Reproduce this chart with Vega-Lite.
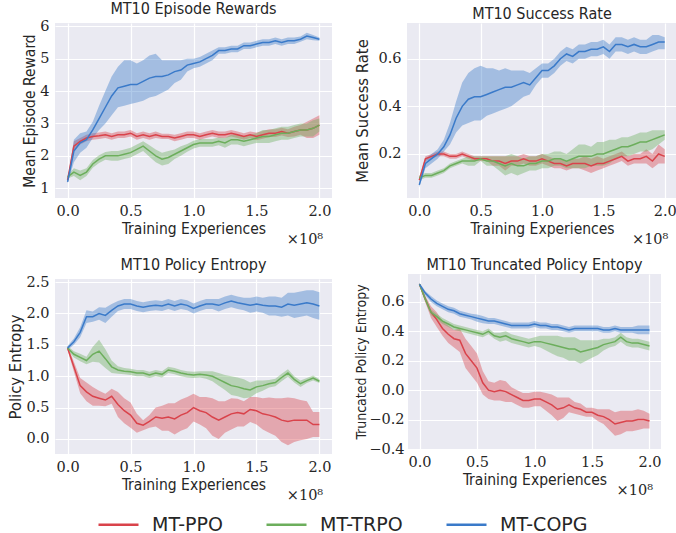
{
"$schema": "https://vega.github.io/schema/vega-lite/v6.json",
"padding": {"left": 7, "top": 1, "right": 0, "bottom": 0},
"background": "white",
"config": {
 "view": {"fill": "#eaeaf2", "stroke": null},
 "axis": {"domain": false, "ticks": false, "tickSize": 0, "gridColor": "#ffffff", "gridWidth": 1.2, "labelFont": "DejaVu Serif", "labelFontSize": 14.5, "labelColor": "#262626", "labelPadding": 6, "labelOverlap": false, "titleFont": "DejaVu Sans Condensed, Lato, sans-serif", "titleFontWeight": "normal", "titleColor": "#262626", "titlePadding": 2, "tickCount": 12},
 "axisX": {"titleFontSize": 15.5, "titlePadding": 4},
 "axisY": {"titleFontSize": 16.5},
 "title": {"font": "DejaVu Sans Condensed, Lato, sans-serif", "fontSize": 16, "fontWeight": "normal", "color": "#262626", "offset": 1, "frame": "group"},
 "legend": {"labelFont": "DejaVu Sans", "labelFontSize": 19, "labelColor": "#262626", "symbolType": "stroke", "symbolSize": 1600, "symbolStrokeWidth": 2.5, "labelOffset": 12, "columnPadding": 38}
},
"data": {"values": [
{"p":"A","m":"MT-PPO","x":0,"y":1.25,"l":1.2,"h":1.3},
{"p":"A","m":"MT-PPO","x":0.05,"y":2.3,"l":2.15,"h":2.45},
{"p":"A","m":"MT-PPO","x":0.1,"y":2.45,"l":2.35,"h":2.55},
{"p":"A","m":"MT-PPO","x":0.15,"y":2.55,"l":2.45,"h":2.65},
{"p":"A","m":"MT-PPO","x":0.2,"y":2.6,"l":2.5,"h":2.7},
{"p":"A","m":"MT-PPO","x":0.25,"y":2.62,"l":2.52,"h":2.72},
{"p":"A","m":"MT-PPO","x":0.3,"y":2.65,"l":2.55,"h":2.75},
{"p":"A","m":"MT-PPO","x":0.35,"y":2.6,"l":2.5,"h":2.7},
{"p":"A","m":"MT-PPO","x":0.4,"y":2.65,"l":2.55,"h":2.75},
{"p":"A","m":"MT-PPO","x":0.45,"y":2.65,"l":2.55,"h":2.75},
{"p":"A","m":"MT-PPO","x":0.5,"y":2.7,"l":2.6,"h":2.8},
{"p":"A","m":"MT-PPO","x":0.55,"y":2.6,"l":2.5,"h":2.7},
{"p":"A","m":"MT-PPO","x":0.6,"y":2.65,"l":2.55,"h":2.75},
{"p":"A","m":"MT-PPO","x":0.65,"y":2.6,"l":2.5,"h":2.7},
{"p":"A","m":"MT-PPO","x":0.7,"y":2.65,"l":2.55,"h":2.75},
{"p":"A","m":"MT-PPO","x":0.75,"y":2.6,"l":2.52,"h":2.68},
{"p":"A","m":"MT-PPO","x":0.8,"y":2.6,"l":2.52,"h":2.68},
{"p":"A","m":"MT-PPO","x":0.85,"y":2.55,"l":2.45,"h":2.65},
{"p":"A","m":"MT-PPO","x":0.9,"y":2.6,"l":2.5,"h":2.7},
{"p":"A","m":"MT-PPO","x":0.95,"y":2.65,"l":2.55,"h":2.75},
{"p":"A","m":"MT-PPO","x":1.0,"y":2.65,"l":2.55,"h":2.75},
{"p":"A","m":"MT-PPO","x":1.05,"y":2.6,"l":2.5,"h":2.7},
{"p":"A","m":"MT-PPO","x":1.1,"y":2.65,"l":2.55,"h":2.75},
{"p":"A","m":"MT-PPO","x":1.15,"y":2.7,"l":2.6,"h":2.8},
{"p":"A","m":"MT-PPO","x":1.2,"y":2.65,"l":2.55,"h":2.75},
{"p":"A","m":"MT-PPO","x":1.25,"y":2.65,"l":2.55,"h":2.75},
{"p":"A","m":"MT-PPO","x":1.3,"y":2.7,"l":2.6,"h":2.8},
{"p":"A","m":"MT-PPO","x":1.35,"y":2.65,"l":2.55,"h":2.75},
{"p":"A","m":"MT-PPO","x":1.4,"y":2.6,"l":2.5,"h":2.7},
{"p":"A","m":"MT-PPO","x":1.45,"y":2.65,"l":2.55,"h":2.75},
{"p":"A","m":"MT-PPO","x":1.5,"y":2.6,"l":2.48,"h":2.72},
{"p":"A","m":"MT-PPO","x":1.55,"y":2.65,"l":2.53,"h":2.77},
{"p":"A","m":"MT-PPO","x":1.6,"y":2.7,"l":2.58,"h":2.82},
{"p":"A","m":"MT-PPO","x":1.65,"y":2.7,"l":2.58,"h":2.82},
{"p":"A","m":"MT-PPO","x":1.7,"y":2.75,"l":2.63,"h":2.87},
{"p":"A","m":"MT-PPO","x":1.75,"y":2.7,"l":2.58,"h":2.82},
{"p":"A","m":"MT-PPO","x":1.8,"y":2.75,"l":2.6,"h":2.9},
{"p":"A","m":"MT-PPO","x":1.85,"y":2.8,"l":2.65,"h":2.95},
{"p":"A","m":"MT-PPO","x":1.9,"y":2.8,"l":2.55,"h":3.05},
{"p":"A","m":"MT-PPO","x":1.95,"y":2.85,"l":2.55,"h":3.15},
{"p":"A","m":"MT-PPO","x":2.0,"y":2.95,"l":2.65,"h":3.25},
{"p":"A","m":"MT-TRPO","x":0,"y":1.35,"l":1.3,"h":1.4},
{"p":"A","m":"MT-TRPO","x":0.05,"y":1.5,"l":1.38,"h":1.62},
{"p":"A","m":"MT-TRPO","x":0.1,"y":1.4,"l":1.25,"h":1.55},
{"p":"A","m":"MT-TRPO","x":0.15,"y":1.5,"l":1.38,"h":1.62},
{"p":"A","m":"MT-TRPO","x":0.2,"y":1.75,"l":1.63,"h":1.87},
{"p":"A","m":"MT-TRPO","x":0.25,"y":1.9,"l":1.78,"h":2.02},
{"p":"A","m":"MT-TRPO","x":0.3,"y":2.0,"l":1.88,"h":2.12},
{"p":"A","m":"MT-TRPO","x":0.35,"y":2.0,"l":1.85,"h":2.15},
{"p":"A","m":"MT-TRPO","x":0.4,"y":2.0,"l":1.85,"h":2.15},
{"p":"A","m":"MT-TRPO","x":0.45,"y":2.05,"l":1.9,"h":2.2},
{"p":"A","m":"MT-TRPO","x":0.5,"y":2.1,"l":1.95,"h":2.25},
{"p":"A","m":"MT-TRPO","x":0.55,"y":2.2,"l":2.05,"h":2.35},
{"p":"A","m":"MT-TRPO","x":0.6,"y":2.3,"l":2.15,"h":2.45},
{"p":"A","m":"MT-TRPO","x":0.65,"y":2.15,"l":1.97,"h":2.33},
{"p":"A","m":"MT-TRPO","x":0.7,"y":2.0,"l":1.8,"h":2.2},
{"p":"A","m":"MT-TRPO","x":0.75,"y":1.9,"l":1.7,"h":2.1},
{"p":"A","m":"MT-TRPO","x":0.8,"y":1.95,"l":1.75,"h":2.15},
{"p":"A","m":"MT-TRPO","x":0.85,"y":2.05,"l":1.9,"h":2.2},
{"p":"A","m":"MT-TRPO","x":0.9,"y":2.15,"l":2.0,"h":2.3},
{"p":"A","m":"MT-TRPO","x":0.95,"y":2.25,"l":2.13,"h":2.37},
{"p":"A","m":"MT-TRPO","x":1.0,"y":2.35,"l":2.23,"h":2.47},
{"p":"A","m":"MT-TRPO","x":1.05,"y":2.4,"l":2.28,"h":2.52},
{"p":"A","m":"MT-TRPO","x":1.1,"y":2.4,"l":2.28,"h":2.52},
{"p":"A","m":"MT-TRPO","x":1.15,"y":2.4,"l":2.28,"h":2.52},
{"p":"A","m":"MT-TRPO","x":1.2,"y":2.45,"l":2.33,"h":2.57},
{"p":"A","m":"MT-TRPO","x":1.25,"y":2.4,"l":2.25,"h":2.55},
{"p":"A","m":"MT-TRPO","x":1.3,"y":2.5,"l":2.35,"h":2.65},
{"p":"A","m":"MT-TRPO","x":1.35,"y":2.5,"l":2.35,"h":2.65},
{"p":"A","m":"MT-TRPO","x":1.4,"y":2.45,"l":2.3,"h":2.6},
{"p":"A","m":"MT-TRPO","x":1.45,"y":2.5,"l":2.35,"h":2.65},
{"p":"A","m":"MT-TRPO","x":1.5,"y":2.55,"l":2.4,"h":2.7},
{"p":"A","m":"MT-TRPO","x":1.55,"y":2.6,"l":2.4,"h":2.8},
{"p":"A","m":"MT-TRPO","x":1.6,"y":2.6,"l":2.4,"h":2.8},
{"p":"A","m":"MT-TRPO","x":1.65,"y":2.65,"l":2.45,"h":2.85},
{"p":"A","m":"MT-TRPO","x":1.7,"y":2.7,"l":2.5,"h":2.9},
{"p":"A","m":"MT-TRPO","x":1.75,"y":2.7,"l":2.5,"h":2.9},
{"p":"A","m":"MT-TRPO","x":1.8,"y":2.75,"l":2.55,"h":2.95},
{"p":"A","m":"MT-TRPO","x":1.85,"y":2.8,"l":2.6,"h":3.0},
{"p":"A","m":"MT-TRPO","x":1.9,"y":2.8,"l":2.6,"h":3.0},
{"p":"A","m":"MT-TRPO","x":1.95,"y":2.85,"l":2.6,"h":3.1},
{"p":"A","m":"MT-TRPO","x":2.0,"y":2.95,"l":2.75,"h":3.15},
{"p":"A","m":"MT-COPG","x":0,"y":1.2,"l":1.15,"h":1.25},
{"p":"A","m":"MT-COPG","x":0.05,"y":2.15,"l":1.8,"h":2.5},
{"p":"A","m":"MT-COPG","x":0.1,"y":2.4,"l":2.1,"h":2.7},
{"p":"A","m":"MT-COPG","x":0.15,"y":2.5,"l":2.25,"h":2.75},
{"p":"A","m":"MT-COPG","x":0.2,"y":2.8,"l":2.55,"h":3.05},
{"p":"A","m":"MT-COPG","x":0.25,"y":3.15,"l":2.8,"h":3.55},
{"p":"A","m":"MT-COPG","x":0.3,"y":3.5,"l":3.0,"h":4.0},
{"p":"A","m":"MT-COPG","x":0.35,"y":3.85,"l":3.25,"h":4.45},
{"p":"A","m":"MT-COPG","x":0.4,"y":4.1,"l":3.5,"h":4.75},
{"p":"A","m":"MT-COPG","x":0.45,"y":4.15,"l":3.55,"h":4.95},
{"p":"A","m":"MT-COPG","x":0.5,"y":4.2,"l":3.6,"h":4.95},
{"p":"A","m":"MT-COPG","x":0.55,"y":4.2,"l":3.65,"h":4.85},
{"p":"A","m":"MT-COPG","x":0.6,"y":4.3,"l":3.7,"h":4.95},
{"p":"A","m":"MT-COPG","x":0.65,"y":4.4,"l":3.8,"h":5.1},
{"p":"A","m":"MT-COPG","x":0.7,"y":4.45,"l":3.85,"h":5.15},
{"p":"A","m":"MT-COPG","x":0.75,"y":4.45,"l":3.95,"h":4.95},
{"p":"A","m":"MT-COPG","x":0.8,"y":4.5,"l":4.05,"h":4.95},
{"p":"A","m":"MT-COPG","x":0.85,"y":4.6,"l":4.25,"h":4.95},
{"p":"A","m":"MT-COPG","x":0.9,"y":4.65,"l":4.35,"h":4.95},
{"p":"A","m":"MT-COPG","x":0.95,"y":4.8,"l":4.6,"h":5.0},
{"p":"A","m":"MT-COPG","x":1.0,"y":4.85,"l":4.7,"h":5.0},
{"p":"A","m":"MT-COPG","x":1.05,"y":4.9,"l":4.75,"h":5.05},
{"p":"A","m":"MT-COPG","x":1.1,"y":5.0,"l":4.85,"h":5.15},
{"p":"A","m":"MT-COPG","x":1.15,"y":5.1,"l":4.95,"h":5.25},
{"p":"A","m":"MT-COPG","x":1.2,"y":5.25,"l":5.15,"h":5.35},
{"p":"A","m":"MT-COPG","x":1.25,"y":5.25,"l":5.15,"h":5.35},
{"p":"A","m":"MT-COPG","x":1.3,"y":5.3,"l":5.2,"h":5.4},
{"p":"A","m":"MT-COPG","x":1.35,"y":5.3,"l":5.2,"h":5.4},
{"p":"A","m":"MT-COPG","x":1.4,"y":5.4,"l":5.3,"h":5.5},
{"p":"A","m":"MT-COPG","x":1.45,"y":5.4,"l":5.3,"h":5.5},
{"p":"A","m":"MT-COPG","x":1.5,"y":5.45,"l":5.35,"h":5.55},
{"p":"A","m":"MT-COPG","x":1.55,"y":5.5,"l":5.4,"h":5.6},
{"p":"A","m":"MT-COPG","x":1.6,"y":5.5,"l":5.4,"h":5.6},
{"p":"A","m":"MT-COPG","x":1.65,"y":5.55,"l":5.45,"h":5.65},
{"p":"A","m":"MT-COPG","x":1.7,"y":5.5,"l":5.4,"h":5.6},
{"p":"A","m":"MT-COPG","x":1.75,"y":5.55,"l":5.45,"h":5.65},
{"p":"A","m":"MT-COPG","x":1.8,"y":5.55,"l":5.45,"h":5.65},
{"p":"A","m":"MT-COPG","x":1.85,"y":5.6,"l":5.52,"h":5.68},
{"p":"A","m":"MT-COPG","x":1.9,"y":5.7,"l":5.6,"h":5.8},
{"p":"A","m":"MT-COPG","x":1.95,"y":5.65,"l":5.57,"h":5.73},
{"p":"A","m":"MT-COPG","x":2.0,"y":5.6,"l":5.55,"h":5.65},
{"p":"B","m":"MT-PPO","x":0,"y":0.09,"l":0.08,"h":0.1},
{"p":"B","m":"MT-PPO","x":0.05,"y":0.18,"l":0.17,"h":0.19},
{"p":"B","m":"MT-PPO","x":0.1,"y":0.19,"l":0.18,"h":0.2},
{"p":"B","m":"MT-PPO","x":0.15,"y":0.2,"l":0.19,"h":0.21},
{"p":"B","m":"MT-PPO","x":0.2,"y":0.2,"l":0.19,"h":0.21},
{"p":"B","m":"MT-PPO","x":0.25,"y":0.19,"l":0.18,"h":0.2},
{"p":"B","m":"MT-PPO","x":0.3,"y":0.19,"l":0.18,"h":0.2},
{"p":"B","m":"MT-PPO","x":0.35,"y":0.2,"l":0.19,"h":0.21},
{"p":"B","m":"MT-PPO","x":0.4,"y":0.19,"l":0.18,"h":0.2},
{"p":"B","m":"MT-PPO","x":0.45,"y":0.18,"l":0.17,"h":0.19},
{"p":"B","m":"MT-PPO","x":0.5,"y":0.18,"l":0.17,"h":0.19},
{"p":"B","m":"MT-PPO","x":0.55,"y":0.18,"l":0.17,"h":0.19},
{"p":"B","m":"MT-PPO","x":0.6,"y":0.17,"l":0.15,"h":0.19},
{"p":"B","m":"MT-PPO","x":0.65,"y":0.17,"l":0.15,"h":0.19},
{"p":"B","m":"MT-PPO","x":0.7,"y":0.16,"l":0.13,"h":0.19},
{"p":"B","m":"MT-PPO","x":0.75,"y":0.17,"l":0.15,"h":0.19},
{"p":"B","m":"MT-PPO","x":0.8,"y":0.17,"l":0.15,"h":0.19},
{"p":"B","m":"MT-PPO","x":0.85,"y":0.18,"l":0.16,"h":0.2},
{"p":"B","m":"MT-PPO","x":0.9,"y":0.17,"l":0.15,"h":0.19},
{"p":"B","m":"MT-PPO","x":0.95,"y":0.17,"l":0.15,"h":0.19},
{"p":"B","m":"MT-PPO","x":1.0,"y":0.18,"l":0.16,"h":0.2},
{"p":"B","m":"MT-PPO","x":1.05,"y":0.17,"l":0.15,"h":0.19},
{"p":"B","m":"MT-PPO","x":1.1,"y":0.16,"l":0.14,"h":0.18},
{"p":"B","m":"MT-PPO","x":1.15,"y":0.16,"l":0.14,"h":0.18},
{"p":"B","m":"MT-PPO","x":1.2,"y":0.15,"l":0.13,"h":0.17},
{"p":"B","m":"MT-PPO","x":1.25,"y":0.16,"l":0.14,"h":0.18},
{"p":"B","m":"MT-PPO","x":1.3,"y":0.16,"l":0.14,"h":0.18},
{"p":"B","m":"MT-PPO","x":1.35,"y":0.16,"l":0.13,"h":0.19},
{"p":"B","m":"MT-PPO","x":1.4,"y":0.15,"l":0.12,"h":0.18},
{"p":"B","m":"MT-PPO","x":1.45,"y":0.16,"l":0.13,"h":0.19},
{"p":"B","m":"MT-PPO","x":1.5,"y":0.16,"l":0.14,"h":0.18},
{"p":"B","m":"MT-PPO","x":1.55,"y":0.17,"l":0.15,"h":0.19},
{"p":"B","m":"MT-PPO","x":1.6,"y":0.18,"l":0.16,"h":0.2},
{"p":"B","m":"MT-PPO","x":1.65,"y":0.19,"l":0.17,"h":0.21},
{"p":"B","m":"MT-PPO","x":1.7,"y":0.17,"l":0.15,"h":0.19},
{"p":"B","m":"MT-PPO","x":1.75,"y":0.18,"l":0.16,"h":0.2},
{"p":"B","m":"MT-PPO","x":1.8,"y":0.18,"l":0.16,"h":0.2},
{"p":"B","m":"MT-PPO","x":1.85,"y":0.19,"l":0.16,"h":0.22},
{"p":"B","m":"MT-PPO","x":1.9,"y":0.17,"l":0.14,"h":0.2},
{"p":"B","m":"MT-PPO","x":1.95,"y":0.2,"l":0.16,"h":0.24},
{"p":"B","m":"MT-PPO","x":2.0,"y":0.19,"l":0.16,"h":0.22},
{"p":"B","m":"MT-TRPO","x":0,"y":0.1,"l":0.09,"h":0.11},
{"p":"B","m":"MT-TRPO","x":0.05,"y":0.11,"l":0.1,"h":0.12},
{"p":"B","m":"MT-TRPO","x":0.1,"y":0.11,"l":0.1,"h":0.12},
{"p":"B","m":"MT-TRPO","x":0.15,"y":0.12,"l":0.11,"h":0.13},
{"p":"B","m":"MT-TRPO","x":0.2,"y":0.13,"l":0.12,"h":0.14},
{"p":"B","m":"MT-TRPO","x":0.25,"y":0.15,"l":0.14,"h":0.16},
{"p":"B","m":"MT-TRPO","x":0.3,"y":0.16,"l":0.15,"h":0.17},
{"p":"B","m":"MT-TRPO","x":0.35,"y":0.17,"l":0.16,"h":0.18},
{"p":"B","m":"MT-TRPO","x":0.4,"y":0.17,"l":0.15,"h":0.19},
{"p":"B","m":"MT-TRPO","x":0.45,"y":0.17,"l":0.15,"h":0.19},
{"p":"B","m":"MT-TRPO","x":0.5,"y":0.18,"l":0.17,"h":0.19},
{"p":"B","m":"MT-TRPO","x":0.55,"y":0.17,"l":0.15,"h":0.19},
{"p":"B","m":"MT-TRPO","x":0.6,"y":0.17,"l":0.15,"h":0.19},
{"p":"B","m":"MT-TRPO","x":0.65,"y":0.16,"l":0.13,"h":0.19},
{"p":"B","m":"MT-TRPO","x":0.7,"y":0.15,"l":0.11,"h":0.19},
{"p":"B","m":"MT-TRPO","x":0.75,"y":0.16,"l":0.12,"h":0.2},
{"p":"B","m":"MT-TRPO","x":0.8,"y":0.15,"l":0.11,"h":0.19},
{"p":"B","m":"MT-TRPO","x":0.85,"y":0.15,"l":0.12,"h":0.18},
{"p":"B","m":"MT-TRPO","x":0.9,"y":0.16,"l":0.13,"h":0.19},
{"p":"B","m":"MT-TRPO","x":0.95,"y":0.16,"l":0.13,"h":0.19},
{"p":"B","m":"MT-TRPO","x":1.0,"y":0.17,"l":0.14,"h":0.2},
{"p":"B","m":"MT-TRPO","x":1.05,"y":0.17,"l":0.14,"h":0.2},
{"p":"B","m":"MT-TRPO","x":1.1,"y":0.18,"l":0.15,"h":0.21},
{"p":"B","m":"MT-TRPO","x":1.15,"y":0.18,"l":0.15,"h":0.21},
{"p":"B","m":"MT-TRPO","x":1.2,"y":0.17,"l":0.14,"h":0.2},
{"p":"B","m":"MT-TRPO","x":1.25,"y":0.18,"l":0.14,"h":0.22},
{"p":"B","m":"MT-TRPO","x":1.3,"y":0.19,"l":0.14,"h":0.24},
{"p":"B","m":"MT-TRPO","x":1.35,"y":0.19,"l":0.14,"h":0.24},
{"p":"B","m":"MT-TRPO","x":1.4,"y":0.19,"l":0.15,"h":0.23},
{"p":"B","m":"MT-TRPO","x":1.45,"y":0.2,"l":0.15,"h":0.25},
{"p":"B","m":"MT-TRPO","x":1.5,"y":0.2,"l":0.15,"h":0.25},
{"p":"B","m":"MT-TRPO","x":1.55,"y":0.21,"l":0.16,"h":0.26},
{"p":"B","m":"MT-TRPO","x":1.6,"y":0.22,"l":0.18,"h":0.26},
{"p":"B","m":"MT-TRPO","x":1.65,"y":0.23,"l":0.19,"h":0.27},
{"p":"B","m":"MT-TRPO","x":1.7,"y":0.23,"l":0.19,"h":0.27},
{"p":"B","m":"MT-TRPO","x":1.75,"y":0.24,"l":0.2,"h":0.28},
{"p":"B","m":"MT-TRPO","x":1.8,"y":0.25,"l":0.21,"h":0.29},
{"p":"B","m":"MT-TRPO","x":1.85,"y":0.25,"l":0.21,"h":0.29},
{"p":"B","m":"MT-TRPO","x":1.9,"y":0.26,"l":0.22,"h":0.3},
{"p":"B","m":"MT-TRPO","x":1.95,"y":0.27,"l":0.24,"h":0.3},
{"p":"B","m":"MT-TRPO","x":2.0,"y":0.28,"l":0.26,"h":0.3},
{"p":"B","m":"MT-COPG","x":0,"y":0.07,"l":0.06,"h":0.08},
{"p":"B","m":"MT-COPG","x":0.05,"y":0.16,"l":0.14,"h":0.18},
{"p":"B","m":"MT-COPG","x":0.1,"y":0.18,"l":0.16,"h":0.2},
{"p":"B","m":"MT-COPG","x":0.15,"y":0.2,"l":0.18,"h":0.22},
{"p":"B","m":"MT-COPG","x":0.2,"y":0.23,"l":0.21,"h":0.26},
{"p":"B","m":"MT-COPG","x":0.25,"y":0.28,"l":0.24,"h":0.33},
{"p":"B","m":"MT-COPG","x":0.3,"y":0.35,"l":0.29,"h":0.42},
{"p":"B","m":"MT-COPG","x":0.35,"y":0.4,"l":0.32,"h":0.5},
{"p":"B","m":"MT-COPG","x":0.4,"y":0.43,"l":0.33,"h":0.54},
{"p":"B","m":"MT-COPG","x":0.45,"y":0.44,"l":0.34,"h":0.56},
{"p":"B","m":"MT-COPG","x":0.5,"y":0.44,"l":0.34,"h":0.57},
{"p":"B","m":"MT-COPG","x":0.55,"y":0.45,"l":0.36,"h":0.56},
{"p":"B","m":"MT-COPG","x":0.6,"y":0.46,"l":0.37,"h":0.56},
{"p":"B","m":"MT-COPG","x":0.65,"y":0.47,"l":0.38,"h":0.55},
{"p":"B","m":"MT-COPG","x":0.7,"y":0.48,"l":0.39,"h":0.56},
{"p":"B","m":"MT-COPG","x":0.75,"y":0.48,"l":0.4,"h":0.55},
{"p":"B","m":"MT-COPG","x":0.8,"y":0.49,"l":0.42,"h":0.55},
{"p":"B","m":"MT-COPG","x":0.85,"y":0.5,"l":0.44,"h":0.55},
{"p":"B","m":"MT-COPG","x":0.9,"y":0.49,"l":0.45,"h":0.54},
{"p":"B","m":"MT-COPG","x":0.95,"y":0.52,"l":0.49,"h":0.56},
{"p":"B","m":"MT-COPG","x":1.0,"y":0.55,"l":0.52,"h":0.58},
{"p":"B","m":"MT-COPG","x":1.05,"y":0.55,"l":0.52,"h":0.58},
{"p":"B","m":"MT-COPG","x":1.1,"y":0.57,"l":0.54,"h":0.6},
{"p":"B","m":"MT-COPG","x":1.15,"y":0.6,"l":0.57,"h":0.63},
{"p":"B","m":"MT-COPG","x":1.2,"y":0.62,"l":0.59,"h":0.65},
{"p":"B","m":"MT-COPG","x":1.25,"y":0.61,"l":0.58,"h":0.64},
{"p":"B","m":"MT-COPG","x":1.3,"y":0.63,"l":0.6,"h":0.66},
{"p":"B","m":"MT-COPG","x":1.35,"y":0.63,"l":0.6,"h":0.66},
{"p":"B","m":"MT-COPG","x":1.4,"y":0.64,"l":0.61,"h":0.67},
{"p":"B","m":"MT-COPG","x":1.45,"y":0.64,"l":0.61,"h":0.67},
{"p":"B","m":"MT-COPG","x":1.5,"y":0.65,"l":0.62,"h":0.68},
{"p":"B","m":"MT-COPG","x":1.55,"y":0.63,"l":0.6,"h":0.66},
{"p":"B","m":"MT-COPG","x":1.6,"y":0.66,"l":0.63,"h":0.69},
{"p":"B","m":"MT-COPG","x":1.65,"y":0.66,"l":0.63,"h":0.69},
{"p":"B","m":"MT-COPG","x":1.7,"y":0.65,"l":0.62,"h":0.68},
{"p":"B","m":"MT-COPG","x":1.75,"y":0.66,"l":0.63,"h":0.69},
{"p":"B","m":"MT-COPG","x":1.8,"y":0.65,"l":0.62,"h":0.68},
{"p":"B","m":"MT-COPG","x":1.85,"y":0.65,"l":0.62,"h":0.68},
{"p":"B","m":"MT-COPG","x":1.9,"y":0.66,"l":0.63,"h":0.7},
{"p":"B","m":"MT-COPG","x":1.95,"y":0.67,"l":0.64,"h":0.7},
{"p":"B","m":"MT-COPG","x":2.0,"y":0.67,"l":0.64,"h":0.69},
{"p":"C","m":"MT-PPO","x":0,"y":1.45,"l":1.42,"h":1.48},
{"p":"C","m":"MT-PPO","x":0.05,"y":1.15,"l":1.07,"h":1.23},
{"p":"C","m":"MT-PPO","x":0.1,"y":0.85,"l":0.73,"h":0.97},
{"p":"C","m":"MT-PPO","x":0.15,"y":0.75,"l":0.6,"h":0.9},
{"p":"C","m":"MT-PPO","x":0.2,"y":0.68,"l":0.53,"h":0.83},
{"p":"C","m":"MT-PPO","x":0.25,"y":0.65,"l":0.53,"h":0.77},
{"p":"C","m":"MT-PPO","x":0.3,"y":0.62,"l":0.52,"h":0.72},
{"p":"C","m":"MT-PPO","x":0.35,"y":0.68,"l":0.56,"h":0.8},
{"p":"C","m":"MT-PPO","x":0.4,"y":0.55,"l":0.35,"h":0.75},
{"p":"C","m":"MT-PPO","x":0.45,"y":0.45,"l":0.25,"h":0.65},
{"p":"C","m":"MT-PPO","x":0.5,"y":0.38,"l":0.18,"h":0.58},
{"p":"C","m":"MT-PPO","x":0.55,"y":0.25,"l":0.1,"h":0.4},
{"p":"C","m":"MT-PPO","x":0.6,"y":0.22,"l":0.14,"h":0.3},
{"p":"C","m":"MT-PPO","x":0.65,"y":0.28,"l":0.18,"h":0.38},
{"p":"C","m":"MT-PPO","x":0.7,"y":0.35,"l":0.2,"h":0.5},
{"p":"C","m":"MT-PPO","x":0.75,"y":0.33,"l":0.13,"h":0.53},
{"p":"C","m":"MT-PPO","x":0.8,"y":0.35,"l":0.13,"h":0.57},
{"p":"C","m":"MT-PPO","x":0.85,"y":0.32,"l":0.07,"h":0.57},
{"p":"C","m":"MT-PPO","x":0.9,"y":0.38,"l":0.13,"h":0.63},
{"p":"C","m":"MT-PPO","x":0.95,"y":0.42,"l":0.17,"h":0.67},
{"p":"C","m":"MT-PPO","x":1.0,"y":0.5,"l":0.28,"h":0.72},
{"p":"C","m":"MT-PPO","x":1.05,"y":0.45,"l":0.23,"h":0.67},
{"p":"C","m":"MT-PPO","x":1.1,"y":0.42,"l":0.17,"h":0.67},
{"p":"C","m":"MT-PPO","x":1.15,"y":0.35,"l":0.05,"h":0.65},
{"p":"C","m":"MT-PPO","x":1.2,"y":0.3,"l":0.0,"h":0.6},
{"p":"C","m":"MT-PPO","x":1.25,"y":0.35,"l":0.1,"h":0.6},
{"p":"C","m":"MT-PPO","x":1.3,"y":0.4,"l":0.15,"h":0.65},
{"p":"C","m":"MT-PPO","x":1.35,"y":0.42,"l":0.2,"h":0.64},
{"p":"C","m":"MT-PPO","x":1.4,"y":0.4,"l":0.2,"h":0.6},
{"p":"C","m":"MT-PPO","x":1.45,"y":0.47,"l":0.27,"h":0.67},
{"p":"C","m":"MT-PPO","x":1.5,"y":0.45,"l":0.23,"h":0.67},
{"p":"C","m":"MT-PPO","x":1.55,"y":0.4,"l":0.15,"h":0.65},
{"p":"C","m":"MT-PPO","x":1.6,"y":0.38,"l":0.1,"h":0.66},
{"p":"C","m":"MT-PPO","x":1.65,"y":0.35,"l":0.05,"h":0.65},
{"p":"C","m":"MT-PPO","x":1.7,"y":0.3,"l":-0.05,"h":0.65},
{"p":"C","m":"MT-PPO","x":1.75,"y":0.28,"l":-0.1,"h":0.66},
{"p":"C","m":"MT-PPO","x":1.8,"y":0.3,"l":-0.05,"h":0.65},
{"p":"C","m":"MT-PPO","x":1.85,"y":0.3,"l":-0.02,"h":0.62},
{"p":"C","m":"MT-PPO","x":1.9,"y":0.3,"l":0.0,"h":0.6},
{"p":"C","m":"MT-PPO","x":1.95,"y":0.23,"l":0.03,"h":0.43},
{"p":"C","m":"MT-PPO","x":2.0,"y":0.23,"l":0.03,"h":0.43},
{"p":"C","m":"MT-TRPO","x":0,"y":1.45,"l":1.42,"h":1.48},
{"p":"C","m":"MT-TRPO","x":0.05,"y":1.35,"l":1.3,"h":1.4},
{"p":"C","m":"MT-TRPO","x":0.1,"y":1.3,"l":1.24,"h":1.36},
{"p":"C","m":"MT-TRPO","x":0.15,"y":1.25,"l":1.19,"h":1.31},
{"p":"C","m":"MT-TRPO","x":0.2,"y":1.35,"l":1.23,"h":1.47},
{"p":"C","m":"MT-TRPO","x":0.25,"y":1.4,"l":1.22,"h":1.58},
{"p":"C","m":"MT-TRPO","x":0.3,"y":1.28,"l":1.13,"h":1.43},
{"p":"C","m":"MT-TRPO","x":0.35,"y":1.15,"l":1.05,"h":1.25},
{"p":"C","m":"MT-TRPO","x":0.4,"y":1.1,"l":1.04,"h":1.16},
{"p":"C","m":"MT-TRPO","x":0.45,"y":1.08,"l":1.03,"h":1.13},
{"p":"C","m":"MT-TRPO","x":0.5,"y":1.07,"l":1.02,"h":1.12},
{"p":"C","m":"MT-TRPO","x":0.55,"y":1.05,"l":1.0,"h":1.1},
{"p":"C","m":"MT-TRPO","x":0.6,"y":1.05,"l":1.0,"h":1.1},
{"p":"C","m":"MT-TRPO","x":0.65,"y":1.02,"l":0.97,"h":1.07},
{"p":"C","m":"MT-TRPO","x":0.7,"y":1.05,"l":1.0,"h":1.1},
{"p":"C","m":"MT-TRPO","x":0.75,"y":1.03,"l":0.98,"h":1.08},
{"p":"C","m":"MT-TRPO","x":0.8,"y":1.1,"l":1.05,"h":1.15},
{"p":"C","m":"MT-TRPO","x":0.85,"y":1.08,"l":1.03,"h":1.13},
{"p":"C","m":"MT-TRPO","x":0.9,"y":1.05,"l":1.0,"h":1.1},
{"p":"C","m":"MT-TRPO","x":0.95,"y":1.03,"l":0.98,"h":1.08},
{"p":"C","m":"MT-TRPO","x":1.0,"y":1.02,"l":0.97,"h":1.07},
{"p":"C","m":"MT-TRPO","x":1.05,"y":1.03,"l":0.98,"h":1.08},
{"p":"C","m":"MT-TRPO","x":1.1,"y":1.02,"l":0.96,"h":1.08},
{"p":"C","m":"MT-TRPO","x":1.15,"y":1.0,"l":0.92,"h":1.08},
{"p":"C","m":"MT-TRPO","x":1.2,"y":0.95,"l":0.85,"h":1.05},
{"p":"C","m":"MT-TRPO","x":1.25,"y":0.9,"l":0.78,"h":1.02},
{"p":"C","m":"MT-TRPO","x":1.3,"y":0.85,"l":0.7,"h":1.0},
{"p":"C","m":"MT-TRPO","x":1.35,"y":0.83,"l":0.68,"h":0.98},
{"p":"C","m":"MT-TRPO","x":1.4,"y":0.8,"l":0.65,"h":0.95},
{"p":"C","m":"MT-TRPO","x":1.45,"y":0.78,"l":0.66,"h":0.9},
{"p":"C","m":"MT-TRPO","x":1.5,"y":0.83,"l":0.73,"h":0.93},
{"p":"C","m":"MT-TRPO","x":1.55,"y":0.85,"l":0.77,"h":0.93},
{"p":"C","m":"MT-TRPO","x":1.6,"y":0.88,"l":0.82,"h":0.94},
{"p":"C","m":"MT-TRPO","x":1.65,"y":0.9,"l":0.84,"h":0.96},
{"p":"C","m":"MT-TRPO","x":1.7,"y":0.98,"l":0.92,"h":1.04},
{"p":"C","m":"MT-TRPO","x":1.75,"y":1.05,"l":0.99,"h":1.11},
{"p":"C","m":"MT-TRPO","x":1.8,"y":0.95,"l":0.9,"h":1.0},
{"p":"C","m":"MT-TRPO","x":1.85,"y":0.88,"l":0.83,"h":0.93},
{"p":"C","m":"MT-TRPO","x":1.9,"y":0.93,"l":0.89,"h":0.97},
{"p":"C","m":"MT-TRPO","x":1.95,"y":0.97,"l":0.93,"h":1.01},
{"p":"C","m":"MT-TRPO","x":2.0,"y":0.92,"l":0.89,"h":0.95},
{"p":"C","m":"MT-COPG","x":0,"y":1.45,"l":1.42,"h":1.48},
{"p":"C","m":"MT-COPG","x":0.05,"y":1.55,"l":1.5,"h":1.6},
{"p":"C","m":"MT-COPG","x":0.1,"y":1.7,"l":1.62,"h":1.78},
{"p":"C","m":"MT-COPG","x":0.15,"y":1.95,"l":1.85,"h":2.05},
{"p":"C","m":"MT-COPG","x":0.2,"y":1.95,"l":1.87,"h":2.03},
{"p":"C","m":"MT-COPG","x":0.25,"y":2.0,"l":1.9,"h":2.1},
{"p":"C","m":"MT-COPG","x":0.3,"y":1.97,"l":1.85,"h":2.09},
{"p":"C","m":"MT-COPG","x":0.35,"y":2.05,"l":1.95,"h":2.15},
{"p":"C","m":"MT-COPG","x":0.4,"y":2.12,"l":2.04,"h":2.2},
{"p":"C","m":"MT-COPG","x":0.45,"y":2.15,"l":2.07,"h":2.23},
{"p":"C","m":"MT-COPG","x":0.5,"y":2.15,"l":2.07,"h":2.23},
{"p":"C","m":"MT-COPG","x":0.55,"y":2.12,"l":2.04,"h":2.2},
{"p":"C","m":"MT-COPG","x":0.6,"y":2.1,"l":2.02,"h":2.18},
{"p":"C","m":"MT-COPG","x":0.65,"y":2.12,"l":2.04,"h":2.2},
{"p":"C","m":"MT-COPG","x":0.7,"y":2.13,"l":2.05,"h":2.21},
{"p":"C","m":"MT-COPG","x":0.75,"y":2.12,"l":2.04,"h":2.2},
{"p":"C","m":"MT-COPG","x":0.8,"y":2.15,"l":2.07,"h":2.23},
{"p":"C","m":"MT-COPG","x":0.85,"y":2.12,"l":2.04,"h":2.2},
{"p":"C","m":"MT-COPG","x":0.9,"y":2.15,"l":2.07,"h":2.23},
{"p":"C","m":"MT-COPG","x":0.95,"y":2.13,"l":2.05,"h":2.21},
{"p":"C","m":"MT-COPG","x":1.0,"y":2.08,"l":2.0,"h":2.16},
{"p":"C","m":"MT-COPG","x":1.05,"y":2.12,"l":2.04,"h":2.2},
{"p":"C","m":"MT-COPG","x":1.1,"y":2.15,"l":2.07,"h":2.23},
{"p":"C","m":"MT-COPG","x":1.15,"y":2.15,"l":2.07,"h":2.23},
{"p":"C","m":"MT-COPG","x":1.2,"y":2.13,"l":2.03,"h":2.23},
{"p":"C","m":"MT-COPG","x":1.25,"y":2.17,"l":2.07,"h":2.27},
{"p":"C","m":"MT-COPG","x":1.3,"y":2.2,"l":2.1,"h":2.3},
{"p":"C","m":"MT-COPG","x":1.35,"y":2.17,"l":2.07,"h":2.27},
{"p":"C","m":"MT-COPG","x":1.4,"y":2.15,"l":2.05,"h":2.25},
{"p":"C","m":"MT-COPG","x":1.45,"y":2.13,"l":2.01,"h":2.25},
{"p":"C","m":"MT-COPG","x":1.5,"y":2.15,"l":2.03,"h":2.27},
{"p":"C","m":"MT-COPG","x":1.55,"y":2.13,"l":2.01,"h":2.25},
{"p":"C","m":"MT-COPG","x":1.6,"y":2.12,"l":1.97,"h":2.27},
{"p":"C","m":"MT-COPG","x":1.65,"y":2.12,"l":1.97,"h":2.27},
{"p":"C","m":"MT-COPG","x":1.7,"y":2.1,"l":1.95,"h":2.25},
{"p":"C","m":"MT-COPG","x":1.75,"y":2.15,"l":1.97,"h":2.33},
{"p":"C","m":"MT-COPG","x":1.8,"y":2.13,"l":1.93,"h":2.33},
{"p":"C","m":"MT-COPG","x":1.85,"y":2.15,"l":1.95,"h":2.35},
{"p":"C","m":"MT-COPG","x":1.9,"y":2.17,"l":1.97,"h":2.37},
{"p":"C","m":"MT-COPG","x":1.95,"y":2.15,"l":1.93,"h":2.37},
{"p":"C","m":"MT-COPG","x":2.0,"y":2.12,"l":1.9,"h":2.34},
{"p":"D","m":"MT-PPO","x":0,"y":0.72,"l":0.71,"h":0.73},
{"p":"D","m":"MT-PPO","x":0.05,"y":0.62,"l":0.6,"h":0.64},
{"p":"D","m":"MT-PPO","x":0.1,"y":0.53,"l":0.49,"h":0.57},
{"p":"D","m":"MT-PPO","x":0.15,"y":0.48,"l":0.43,"h":0.53},
{"p":"D","m":"MT-PPO","x":0.2,"y":0.42,"l":0.37,"h":0.47},
{"p":"D","m":"MT-PPO","x":0.25,"y":0.38,"l":0.32,"h":0.44},
{"p":"D","m":"MT-PPO","x":0.3,"y":0.35,"l":0.29,"h":0.41},
{"p":"D","m":"MT-PPO","x":0.35,"y":0.34,"l":0.26,"h":0.42},
{"p":"D","m":"MT-PPO","x":0.4,"y":0.25,"l":0.15,"h":0.35},
{"p":"D","m":"MT-PPO","x":0.45,"y":0.2,"l":0.1,"h":0.3},
{"p":"D","m":"MT-PPO","x":0.5,"y":0.15,"l":0.05,"h":0.25},
{"p":"D","m":"MT-PPO","x":0.55,"y":0.05,"l":-0.03,"h":0.13},
{"p":"D","m":"MT-PPO","x":0.6,"y":0.0,"l":-0.06,"h":0.06},
{"p":"D","m":"MT-PPO","x":0.65,"y":-0.01,"l":-0.07,"h":0.05},
{"p":"D","m":"MT-PPO","x":0.7,"y":0.0,"l":-0.07,"h":0.07},
{"p":"D","m":"MT-PPO","x":0.75,"y":-0.01,"l":-0.08,"h":0.06},
{"p":"D","m":"MT-PPO","x":0.8,"y":-0.03,"l":-0.08,"h":0.02},
{"p":"D","m":"MT-PPO","x":0.85,"y":-0.05,"l":-0.1,"h":0.0},
{"p":"D","m":"MT-PPO","x":0.9,"y":-0.07,"l":-0.12,"h":-0.02},
{"p":"D","m":"MT-PPO","x":0.95,"y":-0.07,"l":-0.12,"h":-0.02},
{"p":"D","m":"MT-PPO","x":1.0,"y":-0.06,"l":-0.11,"h":-0.01},
{"p":"D","m":"MT-PPO","x":1.05,"y":-0.06,"l":-0.11,"h":-0.01},
{"p":"D","m":"MT-PPO","x":1.1,"y":-0.08,"l":-0.14,"h":-0.02},
{"p":"D","m":"MT-PPO","x":1.15,"y":-0.1,"l":-0.17,"h":-0.03},
{"p":"D","m":"MT-PPO","x":1.2,"y":-0.13,"l":-0.21,"h":-0.05},
{"p":"D","m":"MT-PPO","x":1.25,"y":-0.12,"l":-0.19,"h":-0.05},
{"p":"D","m":"MT-PPO","x":1.3,"y":-0.1,"l":-0.15,"h":-0.05},
{"p":"D","m":"MT-PPO","x":1.35,"y":-0.12,"l":-0.16,"h":-0.08},
{"p":"D","m":"MT-PPO","x":1.4,"y":-0.13,"l":-0.17,"h":-0.09},
{"p":"D","m":"MT-PPO","x":1.45,"y":-0.15,"l":-0.18,"h":-0.12},
{"p":"D","m":"MT-PPO","x":1.5,"y":-0.15,"l":-0.18,"h":-0.12},
{"p":"D","m":"MT-PPO","x":1.55,"y":-0.17,"l":-0.21,"h":-0.13},
{"p":"D","m":"MT-PPO","x":1.6,"y":-0.18,"l":-0.23,"h":-0.13},
{"p":"D","m":"MT-PPO","x":1.65,"y":-0.2,"l":-0.27,"h":-0.13},
{"p":"D","m":"MT-PPO","x":1.7,"y":-0.23,"l":-0.31,"h":-0.15},
{"p":"D","m":"MT-PPO","x":1.75,"y":-0.22,"l":-0.3,"h":-0.14},
{"p":"D","m":"MT-PPO","x":1.8,"y":-0.21,"l":-0.28,"h":-0.14},
{"p":"D","m":"MT-PPO","x":1.85,"y":-0.21,"l":-0.28,"h":-0.14},
{"p":"D","m":"MT-PPO","x":1.9,"y":-0.2,"l":-0.27,"h":-0.13},
{"p":"D","m":"MT-PPO","x":1.95,"y":-0.2,"l":-0.26,"h":-0.14},
{"p":"D","m":"MT-PPO","x":2.0,"y":-0.21,"l":-0.26,"h":-0.16},
{"p":"D","m":"MT-TRPO","x":0,"y":0.72,"l":0.71,"h":0.73},
{"p":"D","m":"MT-TRPO","x":0.05,"y":0.62,"l":0.6,"h":0.64},
{"p":"D","m":"MT-TRPO","x":0.1,"y":0.53,"l":0.51,"h":0.55},
{"p":"D","m":"MT-TRPO","x":0.15,"y":0.5,"l":0.48,"h":0.52},
{"p":"D","m":"MT-TRPO","x":0.2,"y":0.47,"l":0.45,"h":0.49},
{"p":"D","m":"MT-TRPO","x":0.25,"y":0.45,"l":0.43,"h":0.47},
{"p":"D","m":"MT-TRPO","x":0.3,"y":0.43,"l":0.41,"h":0.45},
{"p":"D","m":"MT-TRPO","x":0.35,"y":0.42,"l":0.4,"h":0.44},
{"p":"D","m":"MT-TRPO","x":0.4,"y":0.41,"l":0.39,"h":0.43},
{"p":"D","m":"MT-TRPO","x":0.45,"y":0.4,"l":0.38,"h":0.42},
{"p":"D","m":"MT-TRPO","x":0.5,"y":0.39,"l":0.37,"h":0.41},
{"p":"D","m":"MT-TRPO","x":0.55,"y":0.38,"l":0.36,"h":0.4},
{"p":"D","m":"MT-TRPO","x":0.6,"y":0.4,"l":0.38,"h":0.42},
{"p":"D","m":"MT-TRPO","x":0.65,"y":0.37,"l":0.35,"h":0.39},
{"p":"D","m":"MT-TRPO","x":0.7,"y":0.36,"l":0.33,"h":0.39},
{"p":"D","m":"MT-TRPO","x":0.75,"y":0.37,"l":0.34,"h":0.4},
{"p":"D","m":"MT-TRPO","x":0.8,"y":0.35,"l":0.32,"h":0.38},
{"p":"D","m":"MT-TRPO","x":0.85,"y":0.34,"l":0.31,"h":0.37},
{"p":"D","m":"MT-TRPO","x":0.9,"y":0.33,"l":0.3,"h":0.36},
{"p":"D","m":"MT-TRPO","x":0.95,"y":0.32,"l":0.29,"h":0.35},
{"p":"D","m":"MT-TRPO","x":1.0,"y":0.33,"l":0.3,"h":0.36},
{"p":"D","m":"MT-TRPO","x":1.05,"y":0.33,"l":0.29,"h":0.37},
{"p":"D","m":"MT-TRPO","x":1.1,"y":0.32,"l":0.27,"h":0.37},
{"p":"D","m":"MT-TRPO","x":1.15,"y":0.31,"l":0.25,"h":0.37},
{"p":"D","m":"MT-TRPO","x":1.2,"y":0.3,"l":0.23,"h":0.37},
{"p":"D","m":"MT-TRPO","x":1.25,"y":0.29,"l":0.22,"h":0.36},
{"p":"D","m":"MT-TRPO","x":1.3,"y":0.28,"l":0.2,"h":0.36},
{"p":"D","m":"MT-TRPO","x":1.35,"y":0.28,"l":0.2,"h":0.36},
{"p":"D","m":"MT-TRPO","x":1.4,"y":0.26,"l":0.18,"h":0.34},
{"p":"D","m":"MT-TRPO","x":1.45,"y":0.27,"l":0.2,"h":0.34},
{"p":"D","m":"MT-TRPO","x":1.5,"y":0.28,"l":0.22,"h":0.34},
{"p":"D","m":"MT-TRPO","x":1.55,"y":0.29,"l":0.24,"h":0.34},
{"p":"D","m":"MT-TRPO","x":1.6,"y":0.31,"l":0.27,"h":0.35},
{"p":"D","m":"MT-TRPO","x":1.65,"y":0.32,"l":0.29,"h":0.35},
{"p":"D","m":"MT-TRPO","x":1.7,"y":0.33,"l":0.3,"h":0.36},
{"p":"D","m":"MT-TRPO","x":1.75,"y":0.36,"l":0.33,"h":0.39},
{"p":"D","m":"MT-TRPO","x":1.8,"y":0.33,"l":0.3,"h":0.36},
{"p":"D","m":"MT-TRPO","x":1.85,"y":0.32,"l":0.29,"h":0.35},
{"p":"D","m":"MT-TRPO","x":1.9,"y":0.32,"l":0.29,"h":0.35},
{"p":"D","m":"MT-TRPO","x":1.95,"y":0.31,"l":0.28,"h":0.34},
{"p":"D","m":"MT-TRPO","x":2.0,"y":0.3,"l":0.27,"h":0.33},
{"p":"D","m":"MT-COPG","x":0,"y":0.72,"l":0.71,"h":0.73},
{"p":"D","m":"MT-COPG","x":0.05,"y":0.66,"l":0.645,"h":0.675},
{"p":"D","m":"MT-COPG","x":0.1,"y":0.62,"l":0.6,"h":0.64},
{"p":"D","m":"MT-COPG","x":0.15,"y":0.59,"l":0.57,"h":0.61},
{"p":"D","m":"MT-COPG","x":0.2,"y":0.57,"l":0.55,"h":0.59},
{"p":"D","m":"MT-COPG","x":0.25,"y":0.55,"l":0.53,"h":0.57},
{"p":"D","m":"MT-COPG","x":0.3,"y":0.54,"l":0.52,"h":0.56},
{"p":"D","m":"MT-COPG","x":0.35,"y":0.52,"l":0.5,"h":0.54},
{"p":"D","m":"MT-COPG","x":0.4,"y":0.51,"l":0.49,"h":0.53},
{"p":"D","m":"MT-COPG","x":0.45,"y":0.5,"l":0.48,"h":0.52},
{"p":"D","m":"MT-COPG","x":0.5,"y":0.49,"l":0.465,"h":0.515},
{"p":"D","m":"MT-COPG","x":0.55,"y":0.48,"l":0.455,"h":0.505},
{"p":"D","m":"MT-COPG","x":0.6,"y":0.47,"l":0.45,"h":0.49},
{"p":"D","m":"MT-COPG","x":0.65,"y":0.47,"l":0.45,"h":0.49},
{"p":"D","m":"MT-COPG","x":0.7,"y":0.46,"l":0.44,"h":0.48},
{"p":"D","m":"MT-COPG","x":0.75,"y":0.45,"l":0.43,"h":0.47},
{"p":"D","m":"MT-COPG","x":0.8,"y":0.44,"l":0.42,"h":0.46},
{"p":"D","m":"MT-COPG","x":0.85,"y":0.44,"l":0.42,"h":0.46},
{"p":"D","m":"MT-COPG","x":0.9,"y":0.44,"l":0.42,"h":0.46},
{"p":"D","m":"MT-COPG","x":0.95,"y":0.44,"l":0.42,"h":0.46},
{"p":"D","m":"MT-COPG","x":1.0,"y":0.45,"l":0.43,"h":0.47},
{"p":"D","m":"MT-COPG","x":1.05,"y":0.44,"l":0.42,"h":0.46},
{"p":"D","m":"MT-COPG","x":1.1,"y":0.44,"l":0.42,"h":0.46},
{"p":"D","m":"MT-COPG","x":1.15,"y":0.43,"l":0.41,"h":0.45},
{"p":"D","m":"MT-COPG","x":1.2,"y":0.43,"l":0.41,"h":0.45},
{"p":"D","m":"MT-COPG","x":1.25,"y":0.42,"l":0.4,"h":0.44},
{"p":"D","m":"MT-COPG","x":1.3,"y":0.41,"l":0.39,"h":0.43},
{"p":"D","m":"MT-COPG","x":1.35,"y":0.42,"l":0.4,"h":0.44},
{"p":"D","m":"MT-COPG","x":1.4,"y":0.42,"l":0.4,"h":0.44},
{"p":"D","m":"MT-COPG","x":1.45,"y":0.42,"l":0.4,"h":0.44},
{"p":"D","m":"MT-COPG","x":1.5,"y":0.42,"l":0.4,"h":0.44},
{"p":"D","m":"MT-COPG","x":1.55,"y":0.42,"l":0.4,"h":0.44},
{"p":"D","m":"MT-COPG","x":1.6,"y":0.41,"l":0.39,"h":0.43},
{"p":"D","m":"MT-COPG","x":1.65,"y":0.41,"l":0.39,"h":0.43},
{"p":"D","m":"MT-COPG","x":1.7,"y":0.42,"l":0.4,"h":0.44},
{"p":"D","m":"MT-COPG","x":1.75,"y":0.41,"l":0.39,"h":0.43},
{"p":"D","m":"MT-COPG","x":1.8,"y":0.41,"l":0.39,"h":0.43},
{"p":"D","m":"MT-COPG","x":1.85,"y":0.41,"l":0.39,"h":0.43},
{"p":"D","m":"MT-COPG","x":1.9,"y":0.41,"l":0.38,"h":0.44},
{"p":"D","m":"MT-COPG","x":1.95,"y":0.41,"l":0.38,"h":0.44},
{"p":"D","m":"MT-COPG","x":2.0,"y":0.41,"l":0.38,"h":0.44}
]},
"columns": 2,
"align": "none",
"spacing": {"row": 10, "column": 22},
"concat": [
  {"title": "MT10 Episode Rewards", "width": 277, "height": 175, "layer": [
   {"transform": [{"filter": "datum.p == 'A'"}], "mark": {"type": "area", "fillOpacity": 0.4},
    "encoding": {"x": {"field": "x", "type": "quantitative", "scale": {"domain": [-0.1, 2.1], "nice": false, "zero": false}, "axis": {"values": [0, 0.5, 1, 1.5, 2], "format": ".1f", "title": "Training Experiences", "labelOverlap": false, "tickCount": 12}},
     "y": {"field": "l", "type": "quantitative", "scale": {"domain": [0.7, 6.1], "nice": false, "zero": false}, "axis": {"values": [1, 2, 3, 4, 5, 6], "format": "d", "title": "Mean Episode Reward", "titleFontSize": 15.5, "labelOverlap": false, "tickCount": 12}},
     "y2": {"field": "h"},
     "color": {"field": "m", "type": "nominal", "scale": {"domain": ["MT-PPO", "MT-TRPO", "MT-COPG"], "range": ["#d9434b", "#6cae5c", "#3a7ac9"]}, "legend": {"orient": "bottom", "direction": "horizontal", "title": " ", "titleOrient": "left", "titlePadding": 42, "titleFontSize": 11, "offset": 0}}}},
   {"transform": [{"filter": "datum.p == 'A'"}], "mark": {"type": "line", "strokeWidth": 1.5},
    "encoding": {"x": {"field": "x", "type": "quantitative"}, "y": {"field": "y", "type": "quantitative"},
     "color": {"field": "m", "type": "nominal"}}},
   {"data": {"values": [{"t": "×10⁸"}]}, "mark": {"type": "text", "align": "right", "baseline": "alphabetic", "dy": 46, "font": "DejaVu Serif", "fontSize": 14.5, "color": "#262626"},
    "encoding": {"x": {"datum": 2.03}, "y": {"datum": 0.7}, "text": {"field": "t"}}}
  ]},
  {"title": "MT10 Success Rate", "width": 270, "height": 175, "layer": [
   {"transform": [{"filter": "datum.p == 'B'"}], "mark": {"type": "area", "fillOpacity": 0.4},
    "encoding": {"x": {"field": "x", "type": "quantitative", "scale": {"domain": [-0.1, 2.1], "nice": false, "zero": false}, "axis": {"values": [0, 0.5, 1, 1.5, 2], "format": ".1f", "title": "Training Experiences", "labelOverlap": false, "tickCount": 12}},
     "y": {"field": "l", "type": "quantitative", "scale": {"domain": [0.015, 0.75], "nice": false, "zero": false}, "axis": {"values": [0.2, 0.4, 0.6], "format": ".1f", "title": "Mean Success Rate", "titlePadding": 7, "labelOverlap": false, "tickCount": 12}},
     "y2": {"field": "h"},
     "color": {"field": "m", "type": "nominal"}}},
   {"transform": [{"filter": "datum.p == 'B'"}], "mark": {"type": "line", "strokeWidth": 1.5},
    "encoding": {"x": {"field": "x", "type": "quantitative"}, "y": {"field": "y", "type": "quantitative"},
     "color": {"field": "m", "type": "nominal"}}},
   {"data": {"values": [{"t": "×10⁸"}]}, "mark": {"type": "text", "align": "right", "baseline": "alphabetic", "dy": 46, "font": "DejaVu Serif", "fontSize": 14.5, "color": "#262626"},
    "encoding": {"x": {"datum": 2.03}, "y": {"datum": 0.015}, "text": {"field": "t"}}}
  ]},
  {"title": "MT10 Policy Entropy", "width": 277, "height": 175, "layer": [
   {"transform": [{"filter": "datum.p == 'C'"}], "mark": {"type": "area", "fillOpacity": 0.4},
    "encoding": {"x": {"field": "x", "type": "quantitative", "scale": {"domain": [-0.1, 2.1], "nice": false, "zero": false}, "axis": {"values": [0, 0.5, 1, 1.5, 2], "format": ".1f", "title": "Training Experiences", "labelOverlap": false, "tickCount": 12}},
     "y": {"field": "l", "type": "quantitative", "scale": {"domain": [-0.24, 2.55], "nice": false, "zero": false}, "axis": {"values": [0, 0.5, 1, 1.5, 2, 2.5], "format": ".1f", "title": "Policy Entropy", "labelOverlap": false, "tickCount": 12}},
     "y2": {"field": "h"},
     "color": {"field": "m", "type": "nominal"}}},
   {"transform": [{"filter": "datum.p == 'C'"}], "mark": {"type": "line", "strokeWidth": 1.5},
    "encoding": {"x": {"field": "x", "type": "quantitative"}, "y": {"field": "y", "type": "quantitative"},
     "color": {"field": "m", "type": "nominal"}}},
   {"data": {"values": [{"t": "×10⁸"}]}, "mark": {"type": "text", "align": "right", "baseline": "alphabetic", "dy": 46, "font": "DejaVu Serif", "fontSize": 14.5, "color": "#262626"},
    "encoding": {"x": {"datum": 2.03}, "y": {"datum": -0.24}, "text": {"field": "t"}}}
  ]},
  {"title": "MT10 Truncated Policy Entopy", "width": 253, "height": 175, "layer": [
   {"transform": [{"filter": "datum.p == 'D'"}], "mark": {"type": "area", "fillOpacity": 0.4},
    "encoding": {"x": {"field": "x", "type": "quantitative", "scale": {"domain": [-0.1, 2.1], "nice": false, "zero": false}, "axis": {"values": [0, 0.5, 1, 1.5, 2], "format": ".1f", "title": "Training Experiences", "labelOverlap": false, "tickCount": 12}},
     "y": {"field": "l", "type": "quantitative", "scale": {"domain": [-0.4, 0.79], "nice": false, "zero": false}, "axis": {"values": [-0.4, -0.2, 0, 0.2, 0.4, 0.6], "format": ".1f", "title": "Truncated Policy Entropy", "titleFontSize": 14, "titlePadding": 0, "labelPadding": 4, "labelOverlap": false, "tickCount": 12}},
     "y2": {"field": "h"},
     "color": {"field": "m", "type": "nominal"}}},
   {"transform": [{"filter": "datum.p == 'D'"}], "mark": {"type": "line", "strokeWidth": 1.5},
    "encoding": {"x": {"field": "x", "type": "quantitative"}, "y": {"field": "y", "type": "quantitative"},
     "color": {"field": "m", "type": "nominal"}}},
   {"data": {"values": [{"t": "×10⁸"}]}, "mark": {"type": "text", "align": "right", "baseline": "alphabetic", "dy": 46, "font": "DejaVu Serif", "fontSize": 14.5, "color": "#262626"},
    "encoding": {"x": {"datum": 2.03}, "y": {"datum": -0.4}, "text": {"field": "t"}}}
  ]}
]
}
